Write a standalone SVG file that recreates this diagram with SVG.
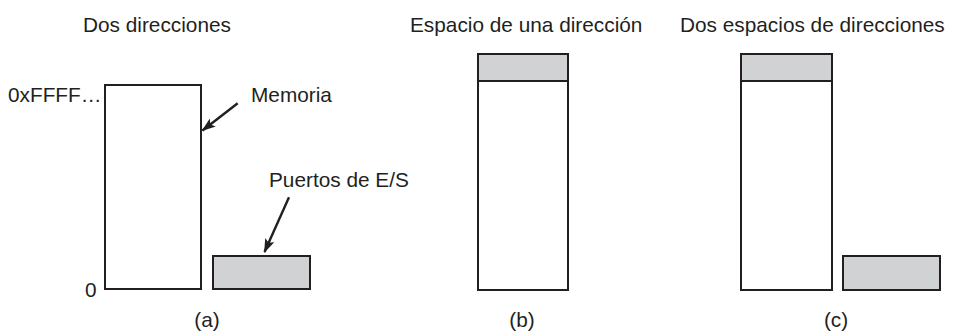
<svg xmlns="http://www.w3.org/2000/svg" width="964" height="334" viewBox="0 0 964 334">
<style>
text{font-family:"Liberation Sans",Arial,sans-serif;font-size:20.8px;fill:#231f20}
.box{fill:#fff;stroke:#231f20;stroke-width:2}
.io{fill:#d1d2d4;stroke:#231f20;stroke-width:2}
.arr{stroke:#231f20;stroke-width:2.4;fill:none;marker-end:url(#ah)}
</style>
<defs>
<marker id="ah" viewBox="0 0 14 10" refX="13" refY="5" markerWidth="14" markerHeight="10" markerUnits="userSpaceOnUse" orient="auto">
<path d="M0,0 L14,5 L0,10 L3,5 Z" fill="#231f20"/>
</marker>
</defs>
<rect width="964" height="334" fill="#fff"/>
<text x="83" y="32">Dos direcciones</text>
<text x="410" y="32">Espacio de una dirección</text>
<text x="680" y="32">Dos espacios de direcciones</text>
<g id="a-memoria">
<rect class="box" x="105" y="85" width="96" height="204"/>
</g>
<g id="a-puertos">
<rect class="io" x="213" y="256" width="97" height="33"/>
</g>
<g id="b-espacio">
<rect class="box" x="478" y="54" width="90" height="236"/>
<rect class="io" x="478" y="54" width="90" height="27"/>
</g>
<g id="c-memoria">
<rect class="box" x="741" y="54" width="91" height="236"/>
<rect class="io" x="741" y="54" width="91" height="27"/>
</g>
<g id="c-puertos">
<rect class="io" x="843" y="256" width="97" height="34"/>
</g>
<g id="connectors">
<line class="arr" x1="237.7" y1="103.3" x2="202.5" y2="130.5"/>
<line class="arr" x1="289" y1="197.3" x2="264.5" y2="252"/>
</g>
<text x="8" y="102">0xFFFF…</text>
<text x="251" y="102">Memoria</text>
<text x="269" y="187">Puertos de E/S</text>
<text x="85" y="297">0</text>
<text x="207" y="327" text-anchor="middle">(a)</text>
<text x="522" y="327" text-anchor="middle">(b)</text>
<text x="836" y="327" text-anchor="middle">(c)</text>
</svg>
